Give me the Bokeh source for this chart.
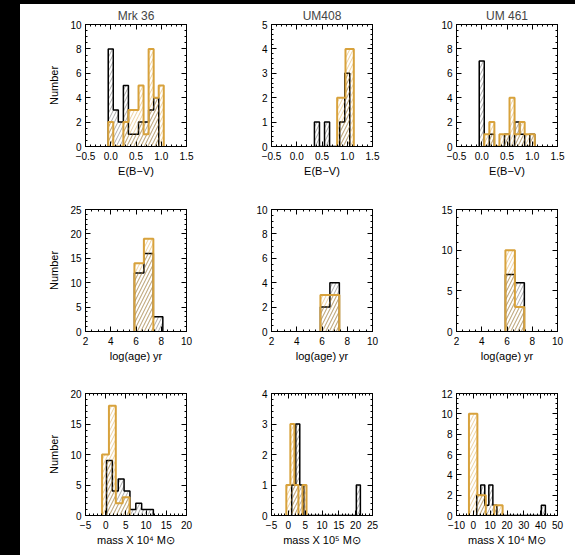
import numpy as np
from bokeh.plotting import figure
from bokeh.models import LinearAxis, SingleIntervalTicker, Range1d, Spacer
from bokeh.layouts import row, column
from bokeh.embed import file_html
from bokeh.resources import INLINE

# ---------------- data ----------------
TITLES = ["Mrk 36", "UM408", "UM 461"]
YLABEL = "Number"
XLABEL_EBV = "E(B\u2212V)"
XLABEL_AGE = "log(age) yr"
XLABEL_MASS = ["mass X 10\u2074 M\u2299", "mass X 10\u2075 M\u2299", "mass X 10\u2074 M\u2299"]

# E(B-V): first bin left edge, bin width, counts
EBV_MRK36_BLACK_START, EBV_MRK36_BLACK_WIDTH = -0.05, 0.1
EBV_MRK36_BLACK = [8, 3, 2, 5, 1, 1, 2, 2, 3, 4]
EBV_MRK36_ORANGE_START, EBV_MRK36_ORANGE_WIDTH = -0.05, 0.1
EBV_MRK36_ORANGE = [2, 0, 0, 2, 3, 3, 5, 1, 8, 4, 5]

EBV_UM408_BLACK_START, EBV_UM408_BLACK_WIDTH = 0.35, 0.1
EBV_UM408_BLACK = [1, 0, 1, 0, 0, 1, 3]
EBV_UM408_ORANGE_START, EBV_UM408_ORANGE_WIDTH = 0.80, 0.165
EBV_UM408_ORANGE = [2, 4]

EBV_UM461_BLACK_START, EBV_UM461_BLACK_WIDTH = -0.05, 0.1
EBV_UM461_BLACK = [7, 0, 1, 0, 0, 1, 0, 2, 1, 0, 1]
EBV_UM461_ORANGE_START, EBV_UM461_ORANGE_WIDTH = 0.05, 0.1
EBV_UM461_ORANGE = [1, 2, 0, 1, 1, 4, 1, 2, 1, 1]

# log(age)
AGE_START, AGE_WIDTH = 5.875, 0.75
AGE_MRK36_BLACK = [12, 16, 3]
AGE_MRK36_ORANGE = [14, 19]
AGE_UM408_BLACK = [2, 4]
AGE_UM408_ORANGE = [3, 3]
AGE_UM461_BLACK = [7, 6]
AGE_UM461_ORANGE = [10, 3]

# mass
MASS_MRK36_BLACK_START, MASS_MRK36_BLACK_WIDTH = 0.2, 1.45
MASS_MRK36_BLACK = [9, 4, 6, 4, 1, 2, 1, 1]
MASS_MRK36_ORANGE_START, MASS_MRK36_ORANGE_WIDTH = -0.9, 1.7
MASS_MRK36_ORANGE = [10, 18, 2, 3]

MASS_UM408_BLACK_START, MASS_UM408_BLACK_WIDTH = 1.0, 1.2
MASS_UM408_BLACK = [1, 3, 1, 0, 0, 0, 0, 0, 0, 0, 0, 0, 0, 0, 0, 0, 1]
MASS_UM408_ORANGE_START, MASS_UM408_ORANGE_WIDTH = -0.6, 1.2
MASS_UM408_ORANGE = [1, 3, 1, 0, 1]

MASS_UM461_BLACK_START, MASS_UM461_BLACK_WIDTH = 2.0, 2.4
MASS_UM461_BLACK = [2, 3, 1, 3, 1, 0, 0, 0, 0, 0, 0, 0, 0, 0, 0, 0, 1]
MASS_UM461_ORANGE_START, MASS_UM461_ORANGE_WIDTH = -2.6, 5.0
MASS_UM461_ORANGE = [10, 2, 0, 1]

# axes: (min, max, major step, minor intervals)
EBV_X = (-0.5, 1.5, 0.5, 5)
AGE_X = (2, 10, 2, 4)
MASS_X = [(-5, 20, 5, 5), (-5, 25, 5, 5), (-10, 50, 10, 5)]
EBV_Y = [(0, 10, 2, 4), (0, 5, 1, 5), (0, 10, 2, 4)]
AGE_Y = [(0, 25, 5, 5), (0, 10, 2, 4), (0, 15, 5, 5)]
MASS_Y = [(0, 20, 5, 5), (0, 4, 1, 5), (0, 12, 2, 4)]

EBV_TICK_LABELS = {-0.5: "\u22120.5", 0.0: "0.0", 0.5: "0.5", 1.0: "1.0", 1.5: "1.5"}

# ---------------- style ----------------
ORANGE = "#D8A23C"
FONT = "Liberation Sans"
COL_W = [185, 185, 185]
COL_LEFT = [65, 66, 66]
ROW_H = [185, 184, 182]
ROW_TOP = [20, 20, 20]
FRAME_W, FRAME_H = 101, 122


def int_labels(lo, hi, step):
    d = {}
    v = lo
    while v <= hi + 1e-9:
        d[float(v)] = ("\u2212%g" % abs(v)) if v < 0 else "%g" % v
        v += step
    return d


def style_axis(ax, labels=True, size="10px"):
    ax.major_tick_in = 5
    ax.major_tick_out = 0
    ax.minor_tick_in = 2
    ax.minor_tick_out = 0
    ax.axis_line_color = "black"
    ax.major_tick_line_color = "black"
    ax.minor_tick_line_color = "black"
    ax.major_label_text_font = FONT
    ax.axis_label_text_font = FONT
    ax.axis_label_text_font_style = "normal"
    ax.axis_label_text_font_size = "11px"
    ax.axis_label_text_color = "black"
    if labels:
        ax.major_label_text_font_size = size
        ax.major_label_text_color = "black"
    else:
        ax.major_label_text_font_size = "1px"
        ax.major_label_text_color = None
        ax.major_label_standoff = 0
        ax.axis_label_standoff = 0


def bars(start, width, counts):
    left = [start + i * width for i in range(len(counts))]
    right = [l + width for l in left]
    return left, right


def envelope(start, width, counts):
    xs, ys = [start], [0]
    for i, c in enumerate(counts):
        l = start + i * width
        xs += [l, l + width]
        ys += [c, c]
    xs.append(start + len(counts) * width)
    ys.append(0)
    return xs, ys


def panel(ci, ri, title, xspec, yspec, xlabel, xlabels, black, orange):
    w, h = COL_W[ci], ROW_H[ri]
    left, top = COL_LEFT[ci], ROW_TOP[ri]
    p = figure(width=w, height=h, x_range=Range1d(xspec[0], xspec[1]),
               y_range=Range1d(yspec[0], yspec[1]),
               x_axis_type=None, y_axis_type=None,
               output_backend="svg", toolbar_location=None,
               min_border_left=left, min_border_right=w - left - FRAME_W,
               min_border_top=top, min_border_bottom=h - top - FRAME_H)
    p.outline_line_color = "black"
    p.outline_line_width = 1
    p.background_fill_color = "white"
    p.border_fill_color = "white"
    if title:
        p.title.text = title
        p.title.align = "center"
        p.title.text_font = FONT
        p.title.text_font_size = "12px"
        p.title.text_font_style = "normal"
        p.title.standoff = 3

    xt = SingleIntervalTicker(interval=xspec[2], num_minor_ticks=xspec[3])
    yt = SingleIntervalTicker(interval=yspec[2], num_minor_ticks=yspec[3])

    xb = LinearAxis(ticker=xt, axis_label=xlabel)
    style_axis(xb)
    xb.major_label_standoff = 5
    xb.axis_label_standoff = 2
    xb.major_label_overrides = xlabels
    p.add_layout(xb, "below")

    yl = LinearAxis(ticker=yt, axis_label=YLABEL if ci == 0 else None)
    style_axis(yl)
    yl.major_label_standoff = 4
    yl.axis_label_standoff = 7
    yl.major_label_overrides = int_labels(yspec[0], yspec[1], yspec[2])
    p.add_layout(yl, "left")

    xa = LinearAxis(ticker=xt)
    style_axis(xa, labels=False)
    p.add_layout(xa, "above")
    yr = LinearAxis(ticker=yt)
    style_axis(yr, labels=False)
    p.add_layout(yr, "right")

    for (start, width, counts), col, hcol, lw in [
            (black, "black", "#555555", 1.5), (orange, ORANGE, ORANGE, 2.0)]:
        l, r = bars(start, width, counts)
        p.quad(left=l, right=r, top=counts, bottom=0, fill_color=None,
               line_color=None, hatch_pattern="/", hatch_color=hcol,
               hatch_alpha=0.7, hatch_scale=7, hatch_weight=0.7)
        xs, ys = envelope(start, width, counts)
        p.line(xs, ys, line_color=col, line_width=lw)
    return p


ebv_sets = [
    ((EBV_MRK36_BLACK_START, EBV_MRK36_BLACK_WIDTH, EBV_MRK36_BLACK),
     (EBV_MRK36_ORANGE_START, EBV_MRK36_ORANGE_WIDTH, EBV_MRK36_ORANGE)),
    ((EBV_UM408_BLACK_START, EBV_UM408_BLACK_WIDTH, EBV_UM408_BLACK),
     (EBV_UM408_ORANGE_START, EBV_UM408_ORANGE_WIDTH, EBV_UM408_ORANGE)),
    ((EBV_UM461_BLACK_START, EBV_UM461_BLACK_WIDTH, EBV_UM461_BLACK),
     (EBV_UM461_ORANGE_START, EBV_UM461_ORANGE_WIDTH, EBV_UM461_ORANGE)),
]
age_sets = [
    ((AGE_START, AGE_WIDTH, AGE_MRK36_BLACK), (AGE_START, AGE_WIDTH, AGE_MRK36_ORANGE)),
    ((AGE_START, AGE_WIDTH, AGE_UM408_BLACK), (AGE_START, AGE_WIDTH, AGE_UM408_ORANGE)),
    ((AGE_START, AGE_WIDTH, AGE_UM461_BLACK), (AGE_START, AGE_WIDTH, AGE_UM461_ORANGE)),
]
mass_sets = [
    ((MASS_MRK36_BLACK_START, MASS_MRK36_BLACK_WIDTH, MASS_MRK36_BLACK),
     (MASS_MRK36_ORANGE_START, MASS_MRK36_ORANGE_WIDTH, MASS_MRK36_ORANGE)),
    ((MASS_UM408_BLACK_START, MASS_UM408_BLACK_WIDTH, MASS_UM408_BLACK),
     (MASS_UM408_ORANGE_START, MASS_UM408_ORANGE_WIDTH, MASS_UM408_ORANGE)),
    ((MASS_UM461_BLACK_START, MASS_UM461_BLACK_WIDTH, MASS_UM461_BLACK),
     (MASS_UM461_ORANGE_START, MASS_UM461_ORANGE_WIDTH, MASS_UM461_ORANGE)),
]

r1 = [panel(i, 0, TITLES[i], EBV_X, EBV_Y[i], XLABEL_EBV, EBV_TICK_LABELS, *ebv_sets[i]) for i in range(3)]
r2 = [panel(i, 1, None, AGE_X, AGE_Y[i], XLABEL_AGE, int_labels(*AGE_X[:3]), *age_sets[i]) for i in range(3)]
r3 = [panel(i, 2, None, MASS_X[i], MASS_Y[i], XLABEL_MASS[i], int_labels(*MASS_X[i][:3]), *mass_sets[i]) for i in range(3)]

grid = column(row(*r1), row(*r2), row(*r3))
left_strip = Spacer(width=20, height=sum(ROW_H), styles={"background-color": "black"})
top_strip = Spacer(width=20 + sum(COL_W), height=4, styles={"background-color": "black"})
layout = column(top_strip, row(left_strip, grid))

open("out.html", "w").write(file_html(layout, INLINE))
